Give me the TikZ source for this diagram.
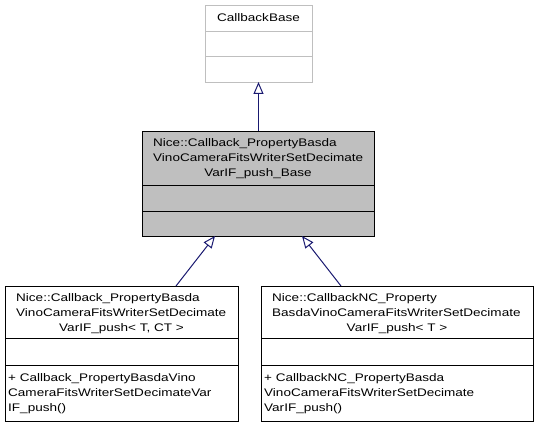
\documentclass[tikz,border=0pt]{standalone}
\usepackage{fontspec}
\setmainfont[FakeStretch=1.23]{Liberation Sans}
\usetikzlibrary{arrows.meta}
\definecolor{edgeblue}{HTML}{191970}
\definecolor{boxgray}{HTML}{BFBFBF}
\tikzset{
  box/.style={draw=black, line width=1pt, fill=white, rectangle, inner sep=0pt, anchor=north west},
  txt/.style={inner sep=0pt, font=\fontsize{11}{13}\selectfont},
  lt/.style={txt, anchor=mid west},
  ct/.style={txt, anchor=mid},
  inherit/.style={draw=edgeblue, line width=1pt, -{Triangle[open, length=12pt, width=10pt]}},
  divider/.style={line width=1pt}
}
\begin{document}
\begin{tikzpicture}[x=1pt, y=-1pt]
\useasboundingbox (0,0) rectangle (539,427);
% top box
\node[box, draw=boxgray, minimum width=107pt, minimum height=77pt] (base) at (205,5) {};
\draw[divider, boxgray] (205,32) -- (312,32) (205,57) -- (312,57);
\node[ct] (baset) at (258.5,18.5) {CallbackBase};
% middle box
\node[box, fill=boxgray, minimum width=232pt, minimum height=105pt] (mid) at (142,131) {};
\draw[divider] (142,186) -- (374,186) (142,212) -- (374,212);
\node[lt] (m1) at (153,143.5) {Nice::Callback\_PropertyBasda};
\node[lt] (m2) at (153,158.5) {VinoCameraFitsWriterSetDecimate};
\node[ct] (m3) at (258,173.5) {VarIF\_push\_Base};
% bottom left box
\node[box, minimum width=233pt, minimum height=135pt] (left) at (5,286) {};
\draw[divider] (5,339) -- (238,339) (5,366) -- (238,366);
\node[lt] (l1) at (16,298.5) {Nice::Callback\_PropertyBasda};
\node[lt] (l2) at (16,313.5) {VinoCameraFitsWriterSetDecimate};
\node[ct] (l3) at (121.5,328.5) {VarIF\_push< T, CT >};
\node[lt] (l4) at (8,378.5) {+ Callback\_PropertyBasdaVino};
\node[lt] (l5) at (8,393.5) {CameraFitsWriterSetDecimateVar};
\node[lt] (l6) at (8,408.5) {IF\_push()};
% bottom right box
\node[box, minimum width=272pt, minimum height=135pt] (right) at (261,286) {};
\draw[divider] (261,339) -- (533,339) (261,366) -- (533,366);
\node[lt] (r1) at (272,298.5) {Nice::CallbackNC\_Property};
\node[lt] (r2) at (272,313.5) {BasdaVinoCameraFitsWriterSetDecimate};
\node[ct] (r3) at (397,328.5) {VarIF\_push< T >};
\node[lt] (r4) at (264,378.5) {+ CallbackNC\_PropertyBasda};
\node[lt] (r5) at (264,393.5) {VinoCameraFitsWriterSetDecimate};
\node[lt] (r6) at (264,408.5) {VarIF\_push()};
% connectors
\coordinate (basebot) at (258.5,82);
\coordinate (midtop) at (258.5,131);
\coordinate (midbotl) at (215,236);
\coordinate (midbotr) at (302,236);
\coordinate (lefttop) at (176,286);
\coordinate (righttop) at (341,286);
\draw[inherit] (midtop) -- (basebot);
\draw[inherit] (lefttop) -- (midbotl);
\draw[inherit] (righttop) -- (midbotr);
\end{tikzpicture}
\end{document}
